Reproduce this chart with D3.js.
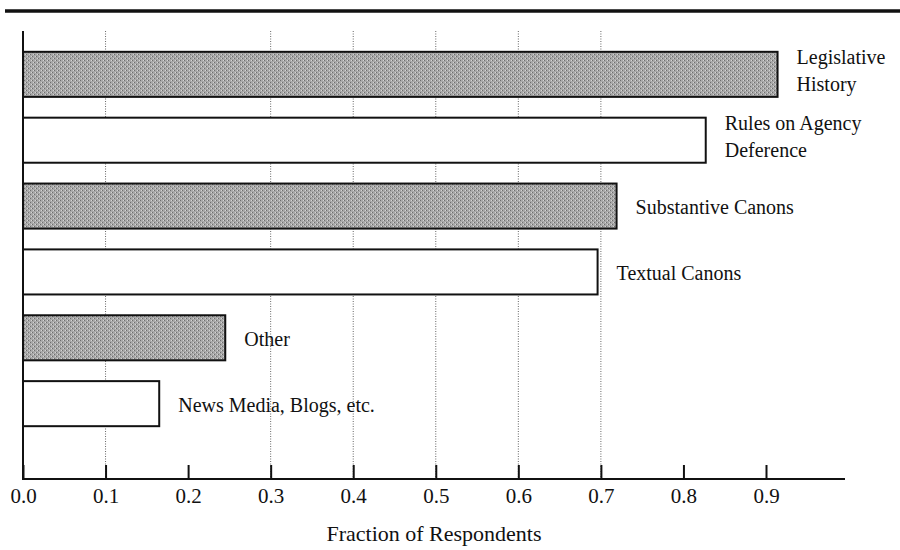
<!DOCTYPE html>
<html>
<head>
<meta charset="utf-8">
<script src="https://cdn.jsdelivr.net/npm/d3@7"></script>
<style>
  html, body { margin: 0; padding: 0; background: #fff; }
  svg { display: block; }
  text { font-family: "Liberation Serif", "Times New Roman", serif; fill: #111; }
</style>
</head>
<body>
<svg id="chart" width="900" height="550"></svg>
<script>
// ---- data ----
const categories = ["Legislative History", "Rules on Agency Deference", "Substantive Canons", "Textual Canons", "Other", "News Media, Blogs, etc."];
const labelLines = [["Legislative", "History"], ["Rules on Agency", "Deference"], ["Substantive Canons"], ["Textual Canons"], ["Other"], ["News Media, Blogs, etc."]];
const values = [0.914, 0.827, 0.719, 0.696, 0.245, 0.165];
const shaded = [true, false, true, false, true, false];
const tickValues = [0.0, 0.1, 0.2, 0.3, 0.4, 0.5, 0.6, 0.7, 0.8, 0.9];
const gridValues = [0.1, 0.3, 0.4, 0.5, 0.6, 0.7];
const xTitle = "Fraction of Respondents";

// ---- drawing ----
const svg = d3.select("#chart");
const defs = svg.append("defs");
const pat = defs.append("pattern").attr("id", "stipple").attr("patternUnits", "userSpaceOnUse")
  .attr("width", 4).attr("height", 4);
pat.append("rect").attr("width", 4).attr("height", 4).attr("fill", "#a8a8a8");
pat.append("rect").attr("x", 0).attr("y", 0).attr("width", 1).attr("height", 1).attr("fill", "#6e6e6e");
pat.append("rect").attr("x", 2).attr("y", 2).attr("width", 1).attr("height", 1).attr("fill", "#6e6e6e");
pat.append("rect").attr("x", 1).attr("y", 2).attr("width", 1).attr("height", 1).attr("fill", "#d4d4d4");
pat.append("rect").attr("x", 3).attr("y", 0).attr("width", 1).attr("height", 1).attr("fill", "#d4d4d4");

const x = d3.scaleLinear().domain([0, 0.9]).range([23, 766]);
const y = d3.scaleBand().domain(categories).range([31, 447]).paddingInner(0.316).paddingOuter(0.316);
const axisY = 479;

// top rule
svg.append("line").attr("x1", 5).attr("x2", 900).attr("y1", 11).attr("y2", 11)
  .attr("stroke", "#111").attr("stroke-width", 3.5);

// grid lines
svg.append("g").selectAll("line").data(gridValues).join("line")
  .attr("x1", d => x(d)).attr("x2", d => x(d))
  .attr("y1", 31).attr("y2", axisY)
  .attr("stroke", "#666").attr("stroke-width", 1).attr("stroke-dasharray", "1,1.5");

// bars
svg.append("g").selectAll("rect").data(categories).join("rect")
  .attr("x", x(0)).attr("y", d => y(d))
  .attr("width", (d, i) => x(values[i]) - x(0))
  .attr("height", y.bandwidth())
  .attr("fill", (d, i) => shaded[i] ? "url(#stipple)" : "#fff")
  .attr("stroke", "#111").attr("stroke-width", 2);

// labels
const lab = svg.append("g").selectAll("text").data(categories).join("text")
  .attr("font-size", 20);
lab.each(function(d, i) {
  const lines = labelLines[i];
  const cy = y(d) + y.bandwidth() / 2;
  const lx = x(values[i]) + 19;
  const t = d3.select(this);
  if (lines.length === 1) {
    t.append("tspan").attr("x", lx).attr("y", cy + 8).text(lines[0]);
  } else {
    lines.forEach((ln, k) => {
      t.append("tspan").attr("x", lx).attr("y", cy - 10 + k * 27).text(ln);
    });
  }
});

// axes
const xAxis = d3.axisBottom(x).tickValues(tickValues).tickFormat(d3.format(".1f"))
  .tickSizeInner(-14).tickSizeOuter(0).tickPadding(9);
const gx = svg.append("g").attr("transform", `translate(0,${axisY})`).call(xAxis);
gx.select(".domain").remove();
gx.selectAll(".tick line").attr("stroke", "#111").attr("stroke-width", 2);
gx.selectAll(".tick text").attr("font-size", 21).attr("font-family", "Liberation Serif, serif").attr("fill", "#111");

svg.append("line").attr("x1", 22).attr("x2", 845).attr("y1", axisY).attr("y2", axisY)
  .attr("stroke", "#111").attr("stroke-width", 2);
svg.append("line").attr("x1", 23).attr("x2", 23).attr("y1", 31).attr("y2", axisY + 1)
  .attr("stroke", "#111").attr("stroke-width", 2);

svg.append("text").attr("x", 434).attr("y", 541).attr("text-anchor", "middle")
  .attr("font-size", 22).text(xTitle);
</script>
</body>
</html>
